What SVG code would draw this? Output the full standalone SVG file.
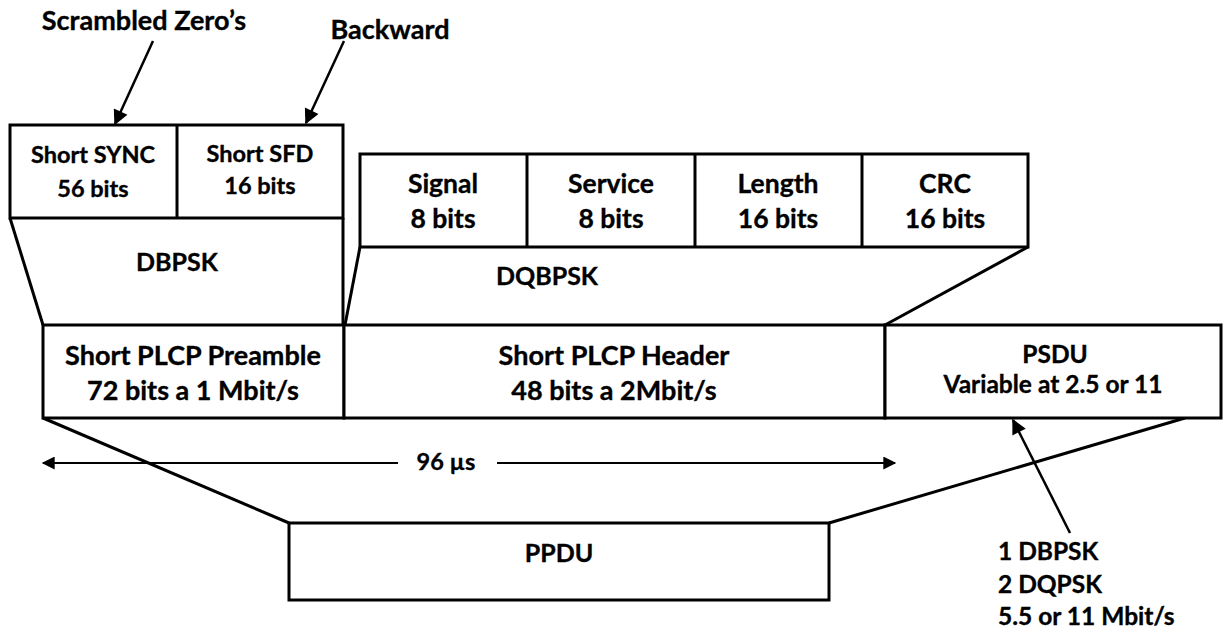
<svg xmlns="http://www.w3.org/2000/svg" width="1223" height="639" viewBox="0 0 1223 639">
  <defs>
    <style>
      .box { fill: #ffffff; stroke: #000000; stroke-width: 3; }
      .edge { fill: none; stroke: #000000; stroke-width: 3; }
      .arrow { fill: none; stroke: #000000; stroke-width: 2.5; }
      .dim { fill: none; stroke: #000000; stroke-width: 2; }
      text { font-family: Lato, "Liberation Sans", sans-serif; font-weight: bold; fill: #000000; stroke: #000000; stroke-width: 0.35; }
      .c { text-anchor: middle; }
      .t27 { font-size: 27px; }
      .t26 { font-size: 26.5px; }
      .t25 { font-size: 25px; }
      .t24 { font-size: 24.5px; }
      .t23 { font-size: 23.5px; }
    </style>
    <marker id="bighead" viewBox="0 0 10 10" refX="9" refY="5" markerWidth="17" markerHeight="15" markerUnits="userSpaceOnUse" orient="auto">
      <path d="M0,0 L10,5 L0,10 Z" fill="#000000"/>
    </marker>
    <marker id="dimhead" viewBox="0 0 10 10" refX="9" refY="5" markerWidth="15" markerHeight="13" markerUnits="userSpaceOnUse" orient="auto-start-reverse">
      <path d="M0,0 L10,5 L0,10 Z" fill="#000000"/>
    </marker>
  </defs>
  <rect width="1223" height="639" fill="#ffffff"/>

  <!-- connectors: expansion lines, callout arrows, duration arrow -->
  <g id="connectors">
    <line class="edge" x1="10" y1="218" x2="43" y2="325"/>
    <line class="edge" x1="343" y1="218" x2="343" y2="325"/>
    <line class="edge" x1="360" y1="247" x2="345" y2="325"/>
    <line class="edge" x1="1028" y1="247" x2="885" y2="325"/>
    <line class="edge" x1="43" y1="418" x2="289" y2="523"/>
    <line class="edge" x1="1185" y1="418" x2="829" y2="523"/>
    <line class="arrow" x1="153" y1="41" x2="115" y2="124" marker-end="url(#bighead)"/>
    <line class="arrow" x1="344" y1="41" x2="306" y2="123" marker-end="url(#bighead)"/>
    <line class="arrow" x1="1070" y1="533" x2="1013" y2="420" marker-end="url(#bighead)"/>
    <line class="dim" x1="398" y1="463" x2="43" y2="463" marker-end="url(#dimhead)"/>
    <line class="dim" x1="497" y1="463" x2="895" y2="463" marker-end="url(#dimhead)"/>
  </g>

  <g id="sync-sfd">
    <rect class="box" x="10" y="125" width="333" height="93"/>
    <line class="edge" x1="177" y1="125" x2="177" y2="218"/>
    <text class="c t23" x="93" y="163">Short SYNC</text>
    <text class="c t23" x="93" y="197">56 bits</text>
    <text class="c t23" x="260" y="162">Short SFD</text>
    <text class="c t23" x="260" y="194">16 bits</text>
  </g>

  <g id="label-scrambled">
    <text class="c t27" x="144" y="30">Scrambled Zero’s</text>
  </g>
  <g id="label-backward">
    <text class="c t27" x="390" y="39">Backward</text>
  </g>

  <g id="label-dbpsk">
    <text class="c t25" x="177" y="271">DBPSK</text>
  </g>

  <g id="header-fields">
    <rect class="box" x="360" y="154" width="668" height="93"/>
    <line class="edge" x1="527" y1="154" x2="527" y2="247"/>
    <line class="edge" x1="695" y1="154" x2="695" y2="247"/>
    <line class="edge" x1="862" y1="154" x2="862" y2="247"/>
    <text class="c t26" x="443" y="193">Signal</text>
    <text class="c t26" x="443" y="228">8 bits</text>
    <text class="c t26" x="611" y="193">Service</text>
    <text class="c t26" x="611" y="228">8 bits</text>
    <text class="c t26" x="778" y="193">Length</text>
    <text class="c t26" x="778" y="228">16 bits</text>
    <text class="c t26" x="945" y="193">CRC</text>
    <text class="c t26" x="945" y="228">16 bits</text>
  </g>

  <g id="label-dqbpsk">
    <text class="c t25" x="547" y="285">DQBPSK</text>
  </g>

  <g id="preamble">
    <rect class="box" x="43" y="325" width="301" height="93"/>
    <text class="c t27" x="193" y="365">Short PLCP Preamble</text>
    <text class="c t27" x="193" y="400">72 bits a 1 Mbit/s</text>
  </g>

  <g id="header">
    <rect class="box" x="344" y="325" width="541" height="93"/>
    <text class="c t27" x="614" y="365">Short PLCP Header</text>
    <text class="c t27" x="614" y="400">48 bits a 2Mbit/s</text>
  </g>

  <g id="psdu">
    <rect class="box" x="885" y="325" width="336" height="93"/>
    <text class="c t24" x="1055" y="363">PSDU</text>
    <text class="c t24" x="1053" y="393">Variable at 2.5 or 11</text>
  </g>

  <g id="duration">
    <text class="c t23" x="446" y="470">96 µs</text>
  </g>

  <g id="ppdu">
    <rect class="box" x="289" y="523" width="540" height="77"/>
    <text class="c t25" x="559" y="562">PPDU</text>
  </g>

  <g id="rates">
    <text class="t24" x="998" y="560">1 DBPSK</text>
    <text class="t24" x="998" y="593">2 DQPSK</text>
    <text class="t24" x="998" y="625">5.5 or 11 Mbit/s</text>
  </g>
</svg>
